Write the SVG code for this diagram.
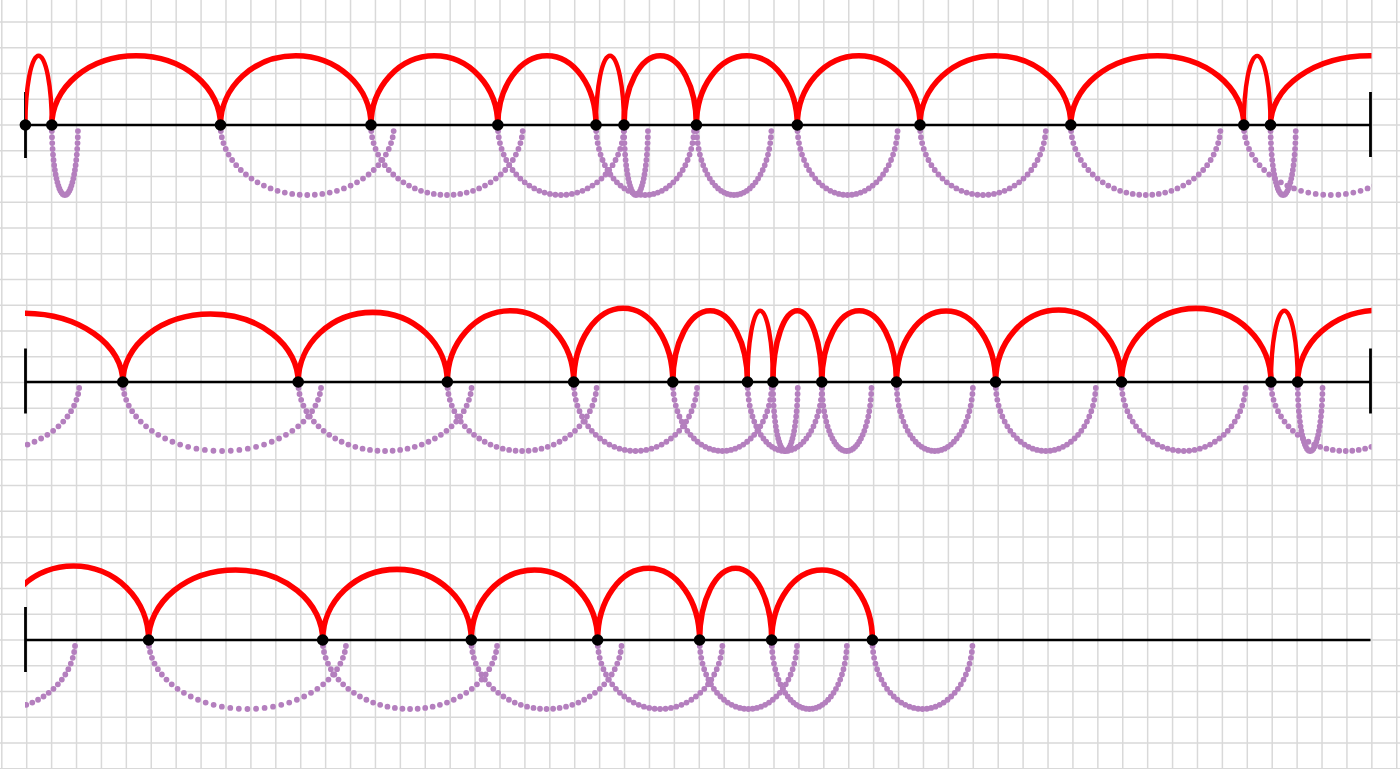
<svg xmlns="http://www.w3.org/2000/svg" xmlns:xlink="http://www.w3.org/1999/xlink" width="1400" height="769" viewBox="0 0 1400 769">
<style>
.grid{fill:none;stroke:#d9d9d9;stroke-width:1.5}
.axis{fill:none;stroke:#000;stroke-width:2.3}
.tick{fill:none;stroke:#000;stroke-width:2.8}
.red{fill:none;stroke:#ff0000;stroke-width:5.6}
.redn{fill:none;stroke:#ff0000;stroke-width:4.4}
.pd{fill:none;stroke:#b47fbe;stroke-width:5.8;stroke-linecap:round}
.dot{fill:#000}
</style>
<defs>
<clipPath id="clipH"><rect x="25" y="0" width="1346.5" height="769"/></clipPath>
<path id="u" class="pd" vector-effect="non-scaling-stroke" d="M.9962 .0872h0M.9848 .1736h0M.9659 .2588h0M.9397 .342h0M.9063 .4226h0M.866 .5h0M.8192 .5736h0M.766 .6428h0M.7071 .7071h0M.6428 .766h0M.5736 .8192h0M.5 .866h0M.4226 .9063h0M.342 .9397h0M.2588 .9659h0M.1736 .9848h0M.0872 .9962h0M0 1h0M-.0872 .9962h0M-.1736 .9848h0M-.2588 .9659h0M-.342 .9397h0M-.4226 .9063h0M-.5 .866h0M-.5736 .8192h0M-.6428 .766h0M-.7071 .7071h0M-.766 .6428h0M-.8192 .5736h0M-.866 .5h0M-.9063 .4226h0M-.9397 .342h0M-.9659 .2588h0M-.9848 .1736h0M-.9962 .0872h0"/>
</defs>
<rect x="0" y="0" width="1400" height="769" fill="#fff"/>
<g id="grid">
<path class="grid" d="M1.8 0V769M26.71 0V769M51.62 0V769M76.53 0V769M101.44 0V769M126.35 0V769M151.26 0V769M176.17 0V769M201.08 0V769M225.99 0V769M250.9 0V769M275.81 0V769M300.72 0V769M325.63 0V769M350.54 0V769M375.45 0V769M400.36 0V769M425.27 0V769M450.18 0V769M475.09 0V769M500 0V769M524.91 0V769M549.82 0V769M574.73 0V769M599.64 0V769M624.55 0V769M649.46 0V769M674.37 0V769M699.28 0V769M724.19 0V769M749.1 0V769M774.01 0V769M798.92 0V769M823.83 0V769M848.74 0V769M873.65 0V769M898.56 0V769M923.47 0V769M948.38 0V769M973.29 0V769M998.2 0V769M1023.11 0V769M1048.02 0V769M1072.93 0V769M1097.84 0V769M1122.75 0V769M1147.66 0V769M1172.57 0V769M1197.48 0V769M1222.39 0V769M1247.3 0V769M1272.21 0V769M1297.12 0V769M1322.03 0V769M1346.94 0V769M1371.85 0V769M1396.76 0V769"/>
<path class="grid" d="M0 22H1400M0 47.75H1400M0 73.5H1400M0 99.25H1400M0 125H1400M0 150.75H1400M0 176.5H1400M0 202.25H1400M0 228H1400M0 253.75H1400M0 279.5H1400M0 305.25H1400M0 331H1400M0 356.75H1400M0 382.5H1400M0 408.25H1400M0 434H1400M0 459.75H1400M0 485.5H1400M0 511.25H1400M0 537H1400M0 562.75H1400M0 588.5H1400M0 614.25H1400M0 640H1400M0 665.75H1400M0 691.5H1400M0 717.25H1400M0 743H1400M0 768.75H1400"/>
</g>
<g id="row1">
<g id="row1-purple" clip-path="url(#clipH)">
<use xlink:href="#u" transform="translate(64.9 125) scale(13.1 70)"/>
<use xlink:href="#u" transform="translate(307.25 125) scale(86.75 70)"/>
<use xlink:href="#u" transform="translate(447 125) scale(76 70)"/>
<use xlink:href="#u" transform="translate(560.9 125) scale(63.1 70)"/>
<use xlink:href="#u" transform="translate(645.1 125) scale(49.1 70)"/>
<use xlink:href="#u" transform="translate(636 125) scale(12 70)"/>
<use xlink:href="#u" transform="translate(733.95 125) scale(37.55 70)"/>
<use xlink:href="#u" transform="translate(847.55 125) scale(50.25 70)"/>
<use xlink:href="#u" transform="translate(983 125) scale(63 70)"/>
<use xlink:href="#u" transform="translate(1145.75 125) scale(74.95 70)"/>
<use xlink:href="#u" transform="translate(1330.8 125) scale(87 70)"/>
<use xlink:href="#u" transform="translate(1283.15 125) scale(12.65 70)"/>
</g>
<g id="row1-axis">
<path class="axis" d="M25.5 125H1370.5"/>
<path class="tick" d="M25.5 92V158M1370.5 92V157"/>
</g>
<g id="row1-red" clip-path="url(#clipH)">
<path class="redn" d="M25.4 125A13.2 69.3 0 0 1 51.8 125M596 125A14 69.3 0 0 1 624 125M1243.8 125A13.35 69.3 0 0 1 1270.5 125"/>
<path class="red" d="M51.8 125A84.35 69.3 0 0 1 220.5 125M220.5 125A75.25 69.3 0 0 1 371 125M371 125A63.4 69.3 0 0 1 497.8 125M497.8 125A49.1 69.3 0 0 1 596 125M624 125A36.2 69.3 0 0 1 696.4 125M696.4 125A50.45 69.3 0 0 1 797.3 125M797.3 125A61.35 69.3 0 0 1 920 125M920 125A75.4 69.3 0 0 1 1070.8 125M1070.8 125A86.5 69.3 0 0 1 1243.8 125M1270.5 125A99.3 69.3 0 0 1 1469.1 125"/>
</g>
<g id="row1-dots" class="dot">
<circle cx="25.4" cy="125" r="5.8"/><circle cx="51.8" cy="125" r="5.8"/><circle cx="220.5" cy="125" r="5.8"/><circle cx="371" cy="125" r="5.8"/><circle cx="497.8" cy="125" r="5.8"/><circle cx="596" cy="125" r="5.8"/><circle cx="624" cy="125" r="5.8"/><circle cx="696.4" cy="125" r="5.8"/><circle cx="797.3" cy="125" r="5.8"/><circle cx="920" cy="125" r="5.8"/><circle cx="1070.8" cy="125" r="5.8"/><circle cx="1243.8" cy="125" r="5.8"/><circle cx="1270.5" cy="125" r="5.8"/>
</g>
</g>
<g id="row2">
<g id="row2-purple" clip-path="url(#clipH)">
<use xlink:href="#u" transform="translate(-10.5 382) scale(90 69)"/>
<use xlink:href="#u" transform="translate(222.1 382) scale(99.3 69)"/>
<use xlink:href="#u" transform="translate(385.05 382) scale(86.85 69)"/>
<use xlink:href="#u" transform="translate(522.1 382) scale(74.8 69)"/>
<use xlink:href="#u" transform="translate(635.5 382) scale(61.8 69)"/>
<use xlink:href="#u" transform="translate(722.35 382) scale(49.55 69)"/>
<use xlink:href="#u" transform="translate(784.85 382) scale(37.35 69)"/>
<use xlink:href="#u" transform="translate(785.35 382) scale(12.45 69)"/>
<use xlink:href="#u" transform="translate(846.7 382) scale(24.9 69)"/>
<use xlink:href="#u" transform="translate(934.75 382) scale(38.25 69)"/>
<use xlink:href="#u" transform="translate(1045.8 382) scale(50.2 69)"/>
<use xlink:href="#u" transform="translate(1183.75 382) scale(62.25 69)"/>
<use xlink:href="#u" transform="translate(1345.75 382) scale(74.75 69)"/>
<use xlink:href="#u" transform="translate(1310.15 382) scale(12.45 69)"/>
</g>
<g id="row2-axis">
<path class="axis" d="M25.5 382H1370.5"/>
<path class="tick" d="M25.5 348.5V413.5M1370.5 348.5V413.5"/>
</g>
<g id="row2-red" clip-path="url(#clipH)">
<path class="redn" d="M747.5 382A12.7 71.3 0 0 1 772.9 382M1271 382A13.35 71.3 0 0 1 1297.7 382"/>
<path class="red" d="M-75.8 382A99.3 68.7 0 0 1 122.8 382M122.8 382A87.7 68 0 0 1 298.2 382M298.2 382A74.55 69.7 0 0 1 447.3 382M447.3 382A63.2 71.3 0 0 1 573.7 382M573.7 382A49.55 73.7 0 0 1 672.8 382M672.8 382A37.35 71.3 0 0 1 747.5 382M772.9 382A24.45 71.3 0 0 1 821.8 382M821.8 382A37.35 71.3 0 0 1 896.5 382M896.5 382A49.55 71 0 0 1 995.6 382M995.6 382A62.95 72 0 0 1 1121.5 382M1121.5 382A74.75 73.7 0 0 1 1271 382M1297.7 382A82.3 71.8 0 0 1 1462.3 382"/>
</g>
<g id="row2-dots" class="dot">
<circle cx="122.8" cy="382" r="5.8"/><circle cx="298.2" cy="382" r="5.8"/><circle cx="447.3" cy="382" r="5.8"/><circle cx="573.7" cy="382" r="5.8"/><circle cx="672.8" cy="382" r="5.8"/><circle cx="747.5" cy="382" r="5.8"/><circle cx="772.9" cy="382" r="5.8"/><circle cx="821.8" cy="382" r="5.8"/><circle cx="896.5" cy="382" r="5.8"/><circle cx="995.6" cy="382" r="5.8"/><circle cx="1121.5" cy="382" r="5.8"/><circle cx="1271" cy="382" r="5.8"/><circle cx="1297.7" cy="382" r="5.8"/>
</g>
</g>
<g id="row3">
<g id="row3-purple" clip-path="url(#clipH)">
<use xlink:href="#u" transform="translate(0.8 640) scale(74.5 69)"/>
<use xlink:href="#u" transform="translate(247.45 640) scale(98.85 69)"/>
<use xlink:href="#u" transform="translate(410.05 640) scale(87.35 69)"/>
<use xlink:href="#u" transform="translate(546.55 640) scale(75.25 69)"/>
<use xlink:href="#u" transform="translate(660.1 640) scale(62.5 69)"/>
<use xlink:href="#u" transform="translate(748.4 640) scale(48.8 69)"/>
<use xlink:href="#u" transform="translate(809.35 640) scale(37.65 69)"/>
<use xlink:href="#u" transform="translate(922.5 640) scale(50.1 69)"/>
</g>
<g id="row3-axis">
<path class="axis" d="M25.5 640H1370.5"/>
<path class="tick" d="M25.5 607V672"/>
</g>
<g id="row3-red" clip-path="url(#clipH)">
<path class="red" d="M-1.6 640A75.1 74 0 0 1 148.6 640M148.6 640A87.05 70 0 0 1 322.7 640M322.7 640A74.3 70.7 0 0 1 471.3 640M471.3 640A63.15 70 0 0 1 597.6 640M597.6 640A51 71.7 0 0 1 699.6 640M699.6 640A36.05 71.7 0 0 1 771.7 640M771.7 640A50.35 70 0 0 1 872.4 640"/>
</g>
<g id="row3-dots" class="dot">
<circle cx="148.6" cy="640" r="5.8"/><circle cx="322.7" cy="640" r="5.8"/><circle cx="471.3" cy="640" r="5.8"/><circle cx="597.6" cy="640" r="5.8"/><circle cx="699.6" cy="640" r="5.8"/><circle cx="771.7" cy="640" r="5.8"/><circle cx="872.4" cy="640" r="5.8"/>
</g>
</g>
</svg>
